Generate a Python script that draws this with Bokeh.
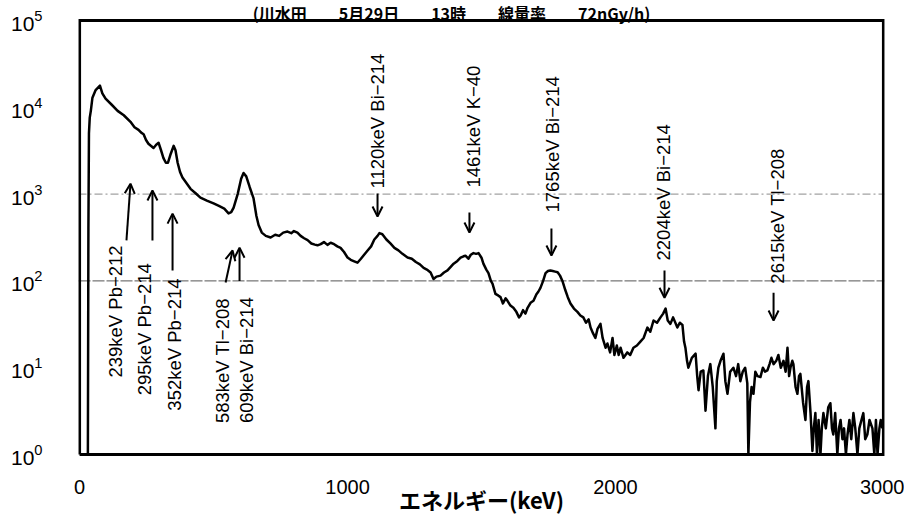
from bokeh.plotting import figure
from bokeh.models import Label, Arrow, OpenHead, Span, FixedTicker
from bokeh.embed import file_html
from bokeh.resources import INLINE

# ---- spectrum ----
energy = [31, 33, 35, 38, 42, 48, 60, 76, 85, 97, 120, 142, 165, 190, 205, 220, 230, 239, 248, 257,
          266, 276, 286, 295, 304, 313, 322, 330, 340, 351, 358, 366, 375, 384, 398, 414, 432, 451, 475, 500,
          520, 540, 556, 566, 575, 590, 603, 612, 622, 635, 649, 660, 668, 680, 695, 713, 730, 745, 760, 776,
          790, 800, 813, 825, 838, 851, 865, 878, 888, 900, 912, 925, 937, 950, 962, 974, 987, 1000, 1012, 1025,
          1037, 1050, 1062, 1075, 1088, 1100, 1112, 1119, 1130, 1145, 1160, 1175, 1190, 1205, 1224, 1240, 1255, 1270, 1284, 1296,
          1310, 1321, 1332, 1347, 1360, 1373, 1385, 1396, 1410, 1422, 1433, 1440, 1451, 1460, 1470, 1480, 1489, 1500, 1507, 1518,
          1526, 1535, 1541, 1552, 1562, 1571, 1580, 1590, 1597, 1608, 1619, 1630, 1640, 1646, 1655, 1664, 1672, 1683, 1694, 1705,
          1712, 1720, 1730, 1739, 1748, 1757, 1766, 1775, 1784, 1793, 1802, 1813, 1822, 1832, 1845, 1858, 1869, 1880, 1890, 1900,
          1907, 1916, 1925, 1933, 1944, 1952, 1963, 1970, 1980, 1989, 1996, 2005, 2012, 2019, 2030, 2044, 2055, 2067, 2080, 2093,
          2105, 2119, 2130, 2142, 2155, 2168, 2178, 2187, 2195, 2205, 2215, 2231, 2240, 2250, 2256, 2261, 2267, 2272, 2285, 2299,
          2305, 2310, 2318, 2328, 2336, 2345, 2354, 2363, 2373, 2378, 2384, 2392, 2403, 2410, 2418, 2428, 2440, 2450, 2458, 2466,
          2475, 2484, 2492, 2496, 2502, 2508, 2515, 2522, 2530, 2541, 2550, 2558, 2567, 2575, 2582, 2590, 2600, 2608, 2617, 2627,
          2635, 2642, 2648, 2653, 2660, 2664, 2672, 2679, 2685, 2690, 2700, 2709, 2715, 2720, 2728, 2735, 2740, 2746, 2752, 2758,
          2765, 2770, 2776, 2785, 2794, 2802, 2808, 2813, 2820, 2828, 2834, 2840, 2847, 2853, 2860, 2866, 2873, 2880, 2888, 2895,
          2903, 2910, 2918, 2925, 2932, 2940, 2948, 2959, 2966, 2972, 2978, 2985, 2990, 2996]
counts = [1, 400, 5000, 7600, 9100, 12900, 15800, 17800, 14500, 12600, 10700, 9100, 8100, 6800, 5900, 5500, 5100, 4900, 4200, 3800,
          3600, 3400, 3700, 3900, 3200, 2600, 2300, 2300, 2900, 3600, 3200, 2300, 1800, 1550, 1350, 1150, 1030, 910, 840, 780,
          730, 680, 600, 620, 700, 1000, 1500, 1750, 1600, 1200, 900, 560, 440, 360, 330, 316, 340, 330, 360, 370,
          355, 375, 360, 330, 310, 295, 270, 262, 257, 265, 280, 260, 275, 265, 250, 240, 215, 186, 175, 168,
          162, 180, 200, 224, 250, 300, 330, 355, 345, 300, 270, 240, 225, 205, 186, 180, 165, 155, 141, 135,
          125, 105, 112, 115, 125, 132, 145, 158, 170, 185, 192, 195, 180, 200, 209, 205, 209, 185, 158, 135,
          123, 100, 93, 71, 68, 65, 55, 63, 59, 52, 49, 44, 38, 40, 46, 42, 49, 56, 59, 70,
          75, 83, 100, 123, 130, 132, 130, 128, 126, 115, 100, 78, 65, 55, 48, 44, 40, 38, 33, 36,
          29, 25, 22, 28, 32, 22, 17, 19, 15, 22, 14, 18, 14, 17, 13, 15, 14, 17, 18, 20,
          22, 29, 26, 35, 33, 38, 42, 48, 35, 32, 38, 29, 33, 31, 20, 17, 12, 10, 13, 14.5,
          8, 5.5, 9, 9.3, 3.2, 8, 11, 6, 2, 7, 10, 12, 14.5, 7, 5, 9, 10, 8, 11, 7,
          9, 10, 6.6, 1, 4, 6, 5, 9, 8, 7.8, 10, 9, 9.3, 11, 13, 11, 12, 14, 10, 12,
          9, 17, 8, 10, 12, 11, 6, 5, 8, 8.5, 4, 2.5, 6, 7, 3, 1.1, 2, 3, 1, 2.5,
          1, 2, 3, 2, 3.5, 3.9, 2, 1.7, 3, 1, 2, 2.5, 1.5, 2, 1, 1.7, 2.5, 1.5, 3, 2,
          1, 2, 2.5, 3, 1.5, 1.7, 2.5, 2, 1, 2.5, 1, 2, 2.5, 2]

title_text = "(川水田　　5月29日　　13時　　線量率　　72nGy/h)"
x_title = "エネルギー(keV)"
x_ticks = [0, 1000, 2000, 3000]
y_ticks = [1, 10, 100, 1000, 10000, 100000]
x_bounds = [0, 3000]
y_bounds = [1, 100000]
grid_levels = [1000, 100]

# ---- peak annotations (left group: text below, arrow up) ----
low_labels = ["239keV Pb−212", "295keV Pb−214", "352keV Pb−214", "583keV Tl−208", "609keV Bi−214"]
low_label_x = [134, 243, 354, 534, 623]
low_label_y = [7.7, 4.8, 3.2, 2.3, 2.3]
low_arrow_x0 = [175, 272, 347, 545, 597]
low_arrow_y0 = [293, 293, 132, 96, 100]
low_arrow_x1 = [190, 272, 347, 571, 597]
low_arrow_y1 = [1320, 1100, 596, 224, 241]

# ---- peak annotations (right group: text above, arrow down) ----
high_labels = ["1120keV Bi−214", "1461keV K−40", "1765keV Bi−214", "2204keV Bi−214", "2615keV Tl−208"]
high_label_x = [1112, 1470, 1765, 2179, 2604]
high_label_y = [1160, 1190, 614, 172, 93]
high_arrow_x = [1112, 1455, 1761, 2183, 2590]
high_arrow_y0 = [1016, 614, 402, 132, 73]
high_arrow_y1 = [552, 361, 196, 64, 35]

SANS = "Liberation Sans"
CJK = "Noto Sans CJK JP"

Y_TOP = 170000  # range end leaves room for the title above the 10^5 line

p = figure(y_axis_type="log", x_range=(-4, 3004), y_range=(0.9483, Y_TOP),
           frame_width=806, frame_height=456,
           min_border_left=78, min_border_right=20, min_border_top=0, min_border_bottom=40,
           output_backend="svg", toolbar_location=None)
p.background_fill_color = "white"
p.border_fill_color = "white"
p.outline_line_color = None
p.xgrid.visible = False
p.ygrid.visible = False

p.xaxis.ticker = FixedTicker(ticks=x_ticks)
p.yaxis.ticker = FixedTicker(ticks=y_ticks)
for ax in (p.xaxis, p.yaxis):
    ax.axis_line_color = None
    ax.major_tick_line_color = None
    ax.minor_tick_line_color = None
    ax.major_tick_out = 0
    ax.major_tick_in = 0
    ax.minor_tick_out = 0
    ax.minor_tick_in = 0
    ax.major_label_text_color = "black"
p.xaxis.major_label_text_font = SANS
p.xaxis.major_label_text_font_size = "20px"
p.xaxis.major_label_standoff = 23
p.xaxis.axis_label = x_title
p.xaxis.axis_label_text_font = CJK
p.xaxis.axis_label_text_font_style = "bold"
p.xaxis.axis_label_text_font_size = "22px"
p.xaxis.axis_label_text_color = "black"
p.xaxis.axis_label_standoff = -14
p.yaxis.major_label_text_font = SANS
p.yaxis.major_label_text_font_size = "21px"
p.yaxis.major_label_standoff = 36

for lvl, dash, col in zip(grid_levels, ["8 3 2 3", "12 2"], ["#8a8a8a", "#555555"]):
    p.add_layout(Span(location=lvl, dimension="width", line_color=col, line_width=1,
                      line_dash=dash, level="underlay"))

# plot frame drawn at the data bounds
frame_x = [x_bounds[0], x_bounds[1], x_bounds[1], x_bounds[0], x_bounds[0]]
frame_y = [y_bounds[0], y_bounds[0], y_bounds[1], y_bounds[1], y_bounds[0]]
p.line(frame_x, frame_y, line_color="black", line_width=3, line_join="miter")

p.line(energy, counts, line_color="black", line_width=2.5, line_join="round")

for t, x, y in zip(low_labels, low_label_x, low_label_y):
    p.add_layout(Label(x=x, y=y, text=t, angle=90, angle_units="deg", text_align="left",
                       text_baseline="middle", text_font=SANS, text_font_size="18.5px",
                       text_color="black"))
for x0, y0, x1, y1 in zip(low_arrow_x0, low_arrow_y0, low_arrow_x1, low_arrow_y1):
    p.add_layout(Arrow(end=OpenHead(size=10, line_width=2, line_color="black"),
                       x_start=x0, y_start=y0, x_end=x1, y_end=y1,
                       line_width=2, line_color="black"))

for t, x, y in zip(high_labels, high_label_x, high_label_y):
    p.add_layout(Label(x=x, y=y, text=t, angle=90, angle_units="deg", text_align="left",
                       text_baseline="middle", text_font=SANS, text_font_size="18.5px",
                       text_color="black"))
for x, y0, y1 in zip(high_arrow_x, high_arrow_y0, high_arrow_y1):
    p.add_layout(Arrow(end=OpenHead(size=10, line_width=2, line_color="black"),
                       x_start=x, y_start=y0, x_end=x, y_end=y1,
                       line_width=2, line_color="black"))

p.add_layout(Label(x=1388, y=Y_TOP, text=title_text, text_align="center", text_baseline="top",
                   text_font=CJK, text_font_style="bold", text_font_size="16px",
                   text_color="black"))

open("out.html", "w").write(file_html(p, INLINE))
